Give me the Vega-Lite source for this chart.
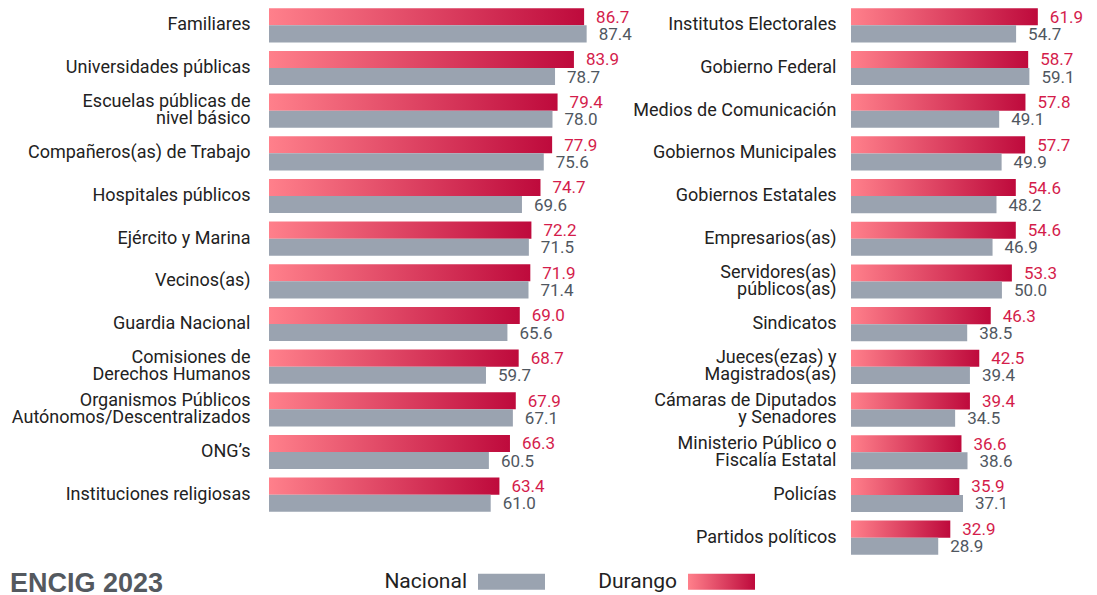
{
  "$schema": "https://vega.github.io/schema/vega-lite/v6.json",
  "padding": {"left": 10, "top": 4, "right": 0, "bottom": 0},
  "background": "white",
  "datasets": {
    "left": [
      {"c": "Familiares", "o": 1, "s": "Durango", "v": 86.7},
      {"c": "Familiares", "o": 1, "s": "Nacional", "v": 87.4},
      {"c": "Universidades públicas", "o": 2, "s": "Durango", "v": 83.9},
      {"c": "Universidades públicas", "o": 2, "s": "Nacional", "v": 78.7},
      {"c": "Escuelas públicas de|nivel básico", "o": 3, "s": "Durango", "v": 79.4},
      {"c": "Escuelas públicas de|nivel básico", "o": 3, "s": "Nacional", "v": 78.0},
      {"c": "Compañeros(as) de Trabajo", "o": 4, "s": "Durango", "v": 77.9},
      {"c": "Compañeros(as) de Trabajo", "o": 4, "s": "Nacional", "v": 75.6},
      {"c": "Hospitales públicos", "o": 5, "s": "Durango", "v": 74.7},
      {"c": "Hospitales públicos", "o": 5, "s": "Nacional", "v": 69.6},
      {"c": "Ejército y Marina", "o": 6, "s": "Durango", "v": 72.2},
      {"c": "Ejército y Marina", "o": 6, "s": "Nacional", "v": 71.5},
      {"c": "Vecinos(as)", "o": 7, "s": "Durango", "v": 71.9},
      {"c": "Vecinos(as)", "o": 7, "s": "Nacional", "v": 71.4},
      {"c": "Guardia Nacional", "o": 8, "s": "Durango", "v": 69.0},
      {"c": "Guardia Nacional", "o": 8, "s": "Nacional", "v": 65.6},
      {"c": "Comisiones de|Derechos Humanos", "o": 9, "s": "Durango", "v": 68.7},
      {"c": "Comisiones de|Derechos Humanos", "o": 9, "s": "Nacional", "v": 59.7},
      {"c": "Organismos Públicos|Autónomos/Descentralizados", "o": 10, "s": "Durango", "v": 67.9},
      {"c": "Organismos Públicos|Autónomos/Descentralizados", "o": 10, "s": "Nacional", "v": 67.1},
      {"c": "ONG’s", "o": 11, "s": "Durango", "v": 66.3},
      {"c": "ONG’s", "o": 11, "s": "Nacional", "v": 60.5},
      {"c": "Instituciones religiosas", "o": 12, "s": "Durango", "v": 63.4},
      {"c": "Instituciones religiosas", "o": 12, "s": "Nacional", "v": 61.0}
    ],
    "right": [
      {"c": "Institutos Electorales", "o": 1, "s": "Durango", "v": 61.9},
      {"c": "Institutos Electorales", "o": 1, "s": "Nacional", "v": 54.7},
      {"c": "Gobierno Federal", "o": 2, "s": "Durango", "v": 58.7},
      {"c": "Gobierno Federal", "o": 2, "s": "Nacional", "v": 59.1},
      {"c": "Medios de Comunicación", "o": 3, "s": "Durango", "v": 57.8},
      {"c": "Medios de Comunicación", "o": 3, "s": "Nacional", "v": 49.1},
      {"c": "Gobiernos Municipales", "o": 4, "s": "Durango", "v": 57.7},
      {"c": "Gobiernos Municipales", "o": 4, "s": "Nacional", "v": 49.9},
      {"c": "Gobiernos Estatales", "o": 5, "s": "Durango", "v": 54.6},
      {"c": "Gobiernos Estatales", "o": 5, "s": "Nacional", "v": 48.2},
      {"c": "Empresarios(as)", "o": 6, "s": "Durango", "v": 54.6},
      {"c": "Empresarios(as)", "o": 6, "s": "Nacional", "v": 46.9},
      {"c": "Servidores(as)|públicos(as)", "o": 7, "s": "Durango", "v": 53.3},
      {"c": "Servidores(as)|públicos(as)", "o": 7, "s": "Nacional", "v": 50.0},
      {"c": "Sindicatos", "o": 8, "s": "Durango", "v": 46.3},
      {"c": "Sindicatos", "o": 8, "s": "Nacional", "v": 38.5},
      {"c": "Jueces(ezas) y|Magistrados(as)", "o": 9, "s": "Durango", "v": 42.5},
      {"c": "Jueces(ezas) y|Magistrados(as)", "o": 9, "s": "Nacional", "v": 39.4},
      {"c": "Cámaras de Diputados|y Senadores", "o": 10, "s": "Durango", "v": 39.4},
      {"c": "Cámaras de Diputados|y Senadores", "o": 10, "s": "Nacional", "v": 34.5},
      {"c": "Ministerio Público o|Fiscalía Estatal", "o": 11, "s": "Durango", "v": 36.6},
      {"c": "Ministerio Público o|Fiscalía Estatal", "o": 11, "s": "Nacional", "v": 38.6},
      {"c": "Policías", "o": 12, "s": "Durango", "v": 35.9},
      {"c": "Policías", "o": 12, "s": "Nacional", "v": 37.1},
      {"c": "Partidos políticos", "o": 13, "s": "Durango", "v": 32.9},
      {"c": "Partidos políticos", "o": 13, "s": "Nacional", "v": 28.9}
    ]
  },
  "hconcat": [
    {
      "width": 350,
      "height": 512,
      "data": {"name": "left"},
      "encoding": {
        "y": {
          "field": "c", "type": "nominal",
          "sort": {"field": "o", "op": "min", "order": "ascending"},
          "scale": {"paddingInner": 0.2, "paddingOuter": 0.1},
          "axis": {"title": null, "ticks": false, "domain": false, "labelPadding": 19,
                   "labelOffset": {"condition": {"test": "indexof(datum.label, '|') >= 0", "value": -8.5}, "value": 0},
                   "labelExpr": "split(datum.label, '|')"}
        },
        "yOffset": {"field": "s", "type": "nominal", "scale": {"domain": ["Durango", "Nacional"], "paddingInner": 0, "paddingOuter": 0}},
        "x": {"field": "v", "type": "quantitative", "scale": {"domain": [0, 96.3]}, "axis": null}
      },
      "layer": [
        {
          "mark": {"type": "bar"},
          "encoding": {
            "color": {"field": "s", "type": "nominal",
              "legend": {"title": "ENCIG 2023"},
              "scale": {"domain": ["Nacional", "Durango"],
                "range": ["#9aa3b0", {"expr": "{gradient: 'linear', x1: 0, y1: 0, x2: 1, y2: 0, stops: [{offset: 0, color: '#ff808b'}, {offset: 1, color: '#be0a3c'}]}"}]}}
          }
        },
        {
          "mark": {"type": "text", "align": "left", "baseline": "middle", "dx": 12, "dy": 1, "font": "Roboto", "fontSize": 17},
          "encoding": {
            "text": {"field": "v", "type": "quantitative", "format": ".1f"},
            "color": {"condition": {"test": "datum.s === 'Durango'", "value": "#d41c4b"}, "value": "#50575f"}
          }
        }
      ]
    },
    {
      "width": 230,
      "height": 555,
      "data": {"name": "right"},
      "encoding": {
        "y": {
          "field": "c", "type": "nominal",
          "sort": {"field": "o", "op": "min", "order": "ascending"},
          "scale": {"paddingInner": 0.2, "paddingOuter": 0.1},
          "axis": {"title": null, "ticks": false, "domain": false, "labelPadding": 15,
                   "labelOffset": {"condition": {"test": "indexof(datum.label, '|') >= 0", "value": -8.5}, "value": 0},
                   "labelExpr": "split(datum.label, '|')"}
        },
        "yOffset": {"field": "s", "type": "nominal", "scale": {"domain": ["Durango", "Nacional"], "paddingInner": 0, "paddingOuter": 0}},
        "x": {"field": "v", "type": "quantitative", "scale": {"domain": [0, 76.2]}, "axis": null}
      },
      "layer": [
        {
          "mark": {"type": "bar"},
          "encoding": {
            "color": {"field": "s", "type": "nominal",
              "legend": {"title": "ENCIG 2023"},
              "scale": {"domain": ["Nacional", "Durango"],
                "range": ["#9aa3b0", {"expr": "{gradient: 'linear', x1: 0, y1: 0, x2: 1, y2: 0, stops: [{offset: 0, color: '#ff808b'}, {offset: 1, color: '#be0a3c'}]}"}]}}
          }
        },
        {
          "mark": {"type": "text", "align": "left", "baseline": "middle", "dx": 12, "dy": 1, "font": "Roboto", "fontSize": 17},
          "encoding": {
            "text": {"field": "v", "type": "quantitative", "format": ".1f"},
            "color": {"condition": {"test": "datum.s === 'Durango'", "value": "#d41c4b"}, "value": "#50575f"}
          }
        }
      ]
    }
  ],
  "resolve": {
    "scale": {"x": "independent", "y": "independent", "color": "shared"},
    "legend": {"color": "shared"}
  },
  "bounds": "flush",
  "spacing": 232,
  "config": {
    "view": {"stroke": null},
    "axis": {"labelFont": "Roboto", "labelFontSize": 18, "labelColor": "#222222", "labelLineHeight": 17, "labelLimit": 400},
    "legend": {
      "orient": "none",
      "legendX": -259,
      "legendY": 544,
      "direction": "horizontal",
      "titleOrient": "left",
      "titleAnchor": "end",
      "titleBaseline": "alphabetic",
      "titleFont": "Liberation Sans",
      "titleFontSize": 27,
      "titleFontWeight": "bold",
      "titleColor": "#54595f",
      "titlePadding": 314,
      "titleLimit": 400,
      "labelFont": "Roboto",
      "labelFontSize": 21,
      "labelColor": "#222222",
      "labelAlign": "right",
      "labelOffset": -78,
      "labelLimit": 200,
      "symbolType": "M-1,-0.24H1V0.24H-1Z",
      "symbolSize": 4489,
      "symbolStrokeWidth": 0,
      "symbolOpacity": 1,
      "columnPadding": 53
    }
  }
}
